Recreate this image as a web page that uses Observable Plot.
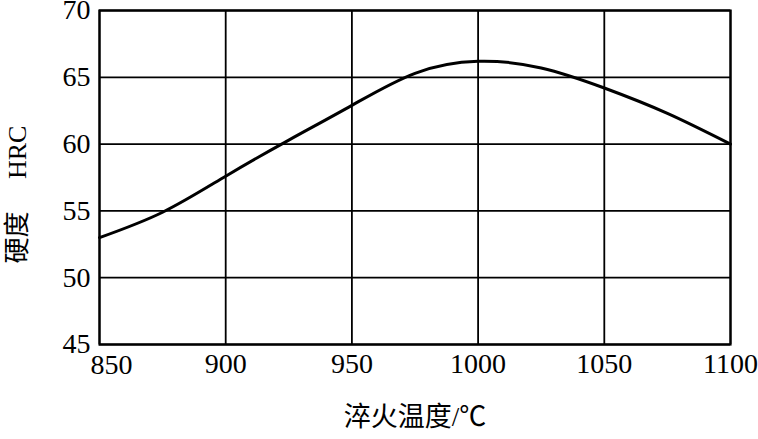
<!DOCTYPE html>
<html>
<head>
<meta charset="utf-8">
<script src="https://cdn.jsdelivr.net/npm/d3@7"></script>
<script src="https://cdn.jsdelivr.net/npm/@observablehq/plot@0.6"></script>
<style>
  html, body { margin: 0; padding: 0; background: #fff; }
</style>
</head>
<body>
<div id="chart"></div>
<script>
// Data
const temperature = [850, 875, 900, 925, 950, 975, 1000, 1025, 1050, 1075, 1100];
const hardness    = [53.0, 54.9, 57.6, 60.3, 62.9, 65.3, 66.2, 65.7, 64.2, 62.3, 60.0];
const xTicks = [850, 900, 950, 1000, 1050, 1100];
const yTicks = [45, 50, 55, 60, 65, 70];
const xTitle = "淬火温度/℃";
const yTitle = "硬度\u3000 HRC";

const data = temperature.map((t, i) => ({t, h: hardness[i]}));
const serif = "'Liberation Serif', 'Times New Roman', 'Noto Sans CJK SC', serif";

const chart = Plot.plot({
  width: 758,
  height: 439,
  marginLeft: 99,
  marginRight: 28,
  marginTop: 10,
  marginBottom: 95,
  style: {fontFamily: serif, background: "#fff", overflow: "visible"},
  x: {domain: [850, 1100], axis: null},
  y: {domain: [45, 70], axis: null},
  marks: [
    Plot.ruleX(xTicks, {stroke: "#000", strokeWidth: 1.8}),
    Plot.ruleY(yTicks, {stroke: "#000", strokeWidth: 1.8}),
    Plot.frame({stroke: "#000", strokeWidth: 2.2}),
    Plot.line(data, {x: "t", y: "h", curve: "natural", stroke: "#000", strokeWidth: 3}),
    // y tick labels
    Plot.text(yTicks, {x: () => 850, y: d => d, text: d => String(d), textAnchor: "end", dx: -9, fontSize: 28, fill: "#000"}),
    // x tick labels (first one nudged right like the reference)
    Plot.text(xTicks.filter(d => d === 850), {x: d => d, y: () => 45, text: d => String(d), dy: 21, dx: 12, fontSize: 28, fill: "#000"}),
    Plot.text(xTicks.filter(d => d !== 850), {x: d => d, y: () => 45, text: d => String(d), dy: 20, fontSize: 28, fill: "#000"}),
    // axis titles
    Plot.text([xTitle], {frameAnchor: "bottom", dy: 81, fontSize: 27, fill: "#000"}),
    Plot.text([yTitle], {frameAnchor: "left", dx: -82, dy: 86, rotate: -90, fontSize: 26, fill: "#000"})
  ]
});
document.getElementById("chart").append(chart);
</script>
</body>
</html>
